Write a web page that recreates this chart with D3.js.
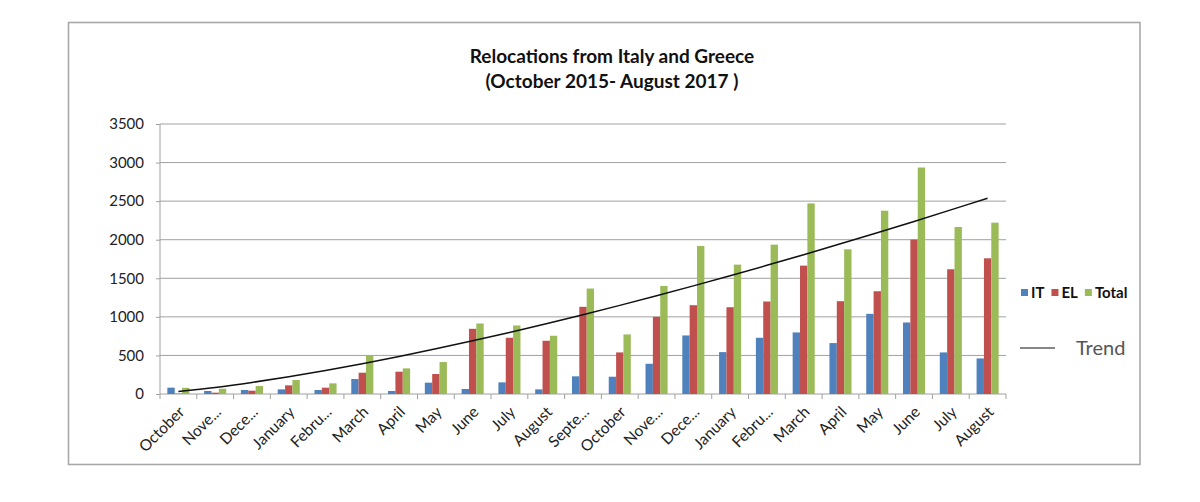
<!DOCTYPE html>
<html lang="en">
    <head>
        <meta charset="utf-8">
        <title>Relocations from Italy and Greece</title>
        <script src="https://d3js.org/d3.v7.min.js"></script>
        <style type="text/css">
          body{
            margin: 0;
            background: #fff;
          }
          svg{
            display: block;
            font-family: Lato, "Open Sans", sans-serif;
          }
          .grid line{
            stroke: #a0a0a0;
            stroke-width: 1px;
          }
        </style>
    </head>
    <body>
        <script type="text/javascript">

        const w = 1200;
        const h = 502;

        // months, Oct 2015 - Aug 2017
        const months = ["October", "Nove...", "Dece...", "January", "Febru...", "March", "April", "May", "June", "July", "August", "Septe...",
                        "October", "Nove...", "Dece...", "January", "Febru...", "March", "April", "May", "June", "July", "August"];
        const itValues = [82, 39, 52, 60, 52, 194, 39, 147, 65, 151, 60, 229, 224, 392, 759, 543, 729, 798, 660, 1039, 927, 539, 461];
        const elValues = [5, 17, 43, 112, 82, 276, 289, 259, 845, 729, 690, 1130, 539, 1000, 1151, 1125, 1199, 1664, 1203, 1332, 2001, 1617, 1759];
        const totalValues = [80, 69, 103, 181, 138, 496, 332, 414, 914, 888, 755, 1367, 772, 1401, 1919, 1677, 1936, 2471, 1876, 2376, 2936, 2165, 2221];
        const yTicks = [0, 500, 1000, 1500, 2000, 2500, 3000, 3500];

        const series = [
          {key: "IT", values: itValues, color: "#4F81BD"},
          {key: "EL", values: elValues, color: "#C0504D"},
          {key: "Total", values: totalValues, color: "#9BBB59"}
        ];

        // power trendline on Total (least squares in log-log space, x = 1..n)
        function powerFit(ys){
          const lx = ys.map((v, i) => Math.log(i + 1));
          const ly = ys.map(v => Math.log(v));
          const mx = d3.mean(lx), my = d3.mean(ly);
          const sxy = d3.sum(lx, (v, i) => (v - mx) * (ly[i] - my));
          const sxx = d3.sum(lx, v => (v - mx) * (v - mx));
          const b = sxy / sxx;
          const a = Math.exp(my - b * mx);
          return xv => a * Math.pow(xv, b);
        }
        const trend = powerFit(totalValues);

        const margin = {left: 160, right: 194, top: 124, bottom: 108};

        const svg = d3.select("body").append("svg")
                      .attr("width", w)
                      .attr("height", h);

        // chart frame
        svg.append("rect")
           .attr("x", 68.5).attr("y", 22.5)
           .attr("width", 1071.5).attr("height", 442)
           .attr("fill", "#fff")
           .attr("stroke", "#a9a9a9")
           .attr("stroke-width", 1.6);

        const x = d3.scaleBand()
                    .domain(d3.range(months.length))
                    .range([margin.left, w - margin.right])
                    .paddingInner(0.4)
                    .paddingOuter(0.2);

        const xStep = x.step();

        const y = d3.scaleLinear()
                    .domain([0, 3500])
                    .range([h - margin.bottom, margin.top]);

        const xSub = d3.scaleBand()
                       .domain(series.map(s => s.key))
                       .range([0, x.bandwidth()]);

        // gridlines
        svg.append("g")
           .attr("class", "grid")
           .selectAll("line")
           .data(yTicks.slice(1))
           .enter()
           .append("line")
           .attr("x1", margin.left)
           .attr("x2", w - margin.right)
           .attr("y1", d => y(d))
           .attr("y2", d => y(d));

        // y axis
        const yAxis = svg.append("g")
           .attr("transform", "translate(" + margin.left + ",0)")
           .call(d3.axisLeft(y).tickValues(yTicks).tickFormat(d3.format("d")).tickSize(4).tickPadding(12));
        yAxis.select(".domain").attr("stroke", "#a0a0a0").attr("d", "M0," + y(0) + "V" + y(3500));
        yAxis.selectAll(".tick line").attr("stroke", "#a0a0a0");
        yAxis.selectAll("text")
             .style("font-size", "15px")
             .style("font-family", "Lato, sans-serif")
             .attr("fill", "#222");

        // x axis
        const xAxisG = svg.append("g")
           .attr("transform", "translate(0," + y(0) + ")");
        xAxisG.append("line")
           .attr("x1", margin.left).attr("x2", w - margin.right)
           .attr("stroke", "#a0a0a0");
        xAxisG.selectAll(".xtick")
           .data(d3.range(months.length + 1))
           .enter()
           .append("line")
           .attr("x1", d => margin.left + d * xStep)
           .attr("x2", d => margin.left + d * xStep)
           .attr("y1", 0).attr("y2", 5)
           .attr("stroke", "#a0a0a0");
        xAxisG.selectAll(".xlabel")
           .data(months)
           .enter()
           .append("text")
           .attr("text-anchor", "end")
           .attr("transform", (d, i) => "translate(" + (x(i) + x.bandwidth() / 2 + 7) + ",19) rotate(-45)")
           .style("font-size", "15.5px")
           .attr("fill", "#222")
           .text(d => d);

        // bars
        const groups = svg.selectAll(".month")
           .data(months.map((m, i) => i))
           .enter()
           .append("g")
           .attr("transform", i => "translate(" + x(i) + ",0)");

        groups.selectAll("rect")
           .data(i => series.map(s => ({key: s.key, val: s.values[i], color: s.color})))
           .enter()
           .append("rect")
           .attr("x", d => xSub(d.key))
           .attr("width", xSub.bandwidth())
           .attr("y", d => y(d.val))
           .attr("height", d => y(0) - y(d.val))
           .attr("fill", d => d.color);

        // trend line
        const trendLine = d3.line()
           .x((d, i) => x(i) + x.bandwidth() / 2)
           .y(d => y(d))
           .curve(d3.curveCatmullRom);

        svg.append("path")
           .datum(months.map((m, i) => trend(i + 1)))
           .attr("d", trendLine)
           .attr("fill", "none")
           .attr("stroke", "#111")
           .attr("stroke-width", 1.5);

        // title
        const title = svg.append("text")
           .attr("text-anchor", "middle")
           .style("font-weight", "bold")
           .style("font-size", "19px")
           .attr("fill", "#111");
        title.append("tspan").attr("x", 612).attr("y", 63).text("Relocations from Italy and Greece");
        title.append("tspan").attr("x", 612).attr("y", 88).text("(October 2015- August 2017 )");

        // legend
        const legend = svg.append("g").attr("transform", "translate(1021,293)");
        let lx = 0;
        series.forEach(s => {
          legend.append("rect")
             .attr("x", lx).attr("y", -4)
             .attr("width", 7).attr("height", 7)
             .attr("fill", s.color);
          const t = legend.append("text")
             .attr("x", lx + 10).attr("y", 0)
             .attr("dy", "0.35em")
             .style("font-size", "15px")
             .style("font-weight", "bold")
             .attr("fill", "#111")
             .text(s.key);
          lx += 10 + t.node().getComputedTextLength() + 7;
        });

        svg.append("line")
           .attr("x1", 1020).attr("x2", 1055)
           .attr("y1", 348).attr("y2", 348)
           .attr("stroke", "#111")
           .attr("stroke-width", 1.2);
        svg.append("text")
           .attr("x", 1076).attr("y", 348)
           .attr("dy", "0.35em")
           .style("font-size", "20px")
           .attr("fill", "#555")
           .text("Trend");

        </script>
    </body>
</html>
